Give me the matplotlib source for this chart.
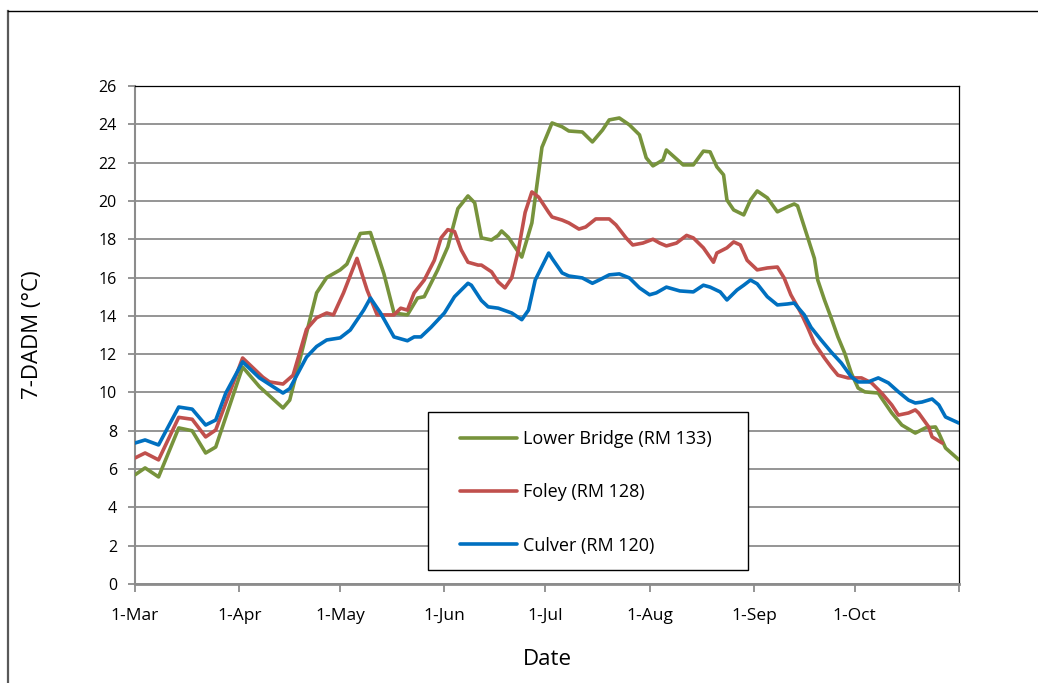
import numpy as np
import matplotlib
matplotlib.use("Agg")
import matplotlib.pyplot as plt
from matplotlib.patches import Rectangle

plt.rcParams['font.family'] = ['Open Sans', 'DejaVu Sans']

# Season start; readings are indexed by days since 1 March
season_start = np.datetime64('2013-03-01')

lower_bridge_days = [0, 3, 7, 13, 17, 21, 24, 32, 37, 44, 46, 51, 54, 57, 61, 63, 67, 70,
                     74, 77, 81, 84, 86, 90, 93, 96, 99, 101, 103, 106, 108, 109, 111, 115,
                     118, 121, 124, 127, 129, 133, 136, 139, 141, 144, 147, 150, 152, 154,
                     157, 158, 163, 166, 169, 171, 173, 175, 176, 178, 181, 183, 185, 188,
                     191, 194, 196, 197, 200, 202, 203, 205, 207, 209, 211, 213, 215, 217,
                     221, 222, 225, 228, 232, 235, 238, 239, 241, 245]
lower_bridge_temp = [5.7, 6.06, 5.59, 8.15, 8.0, 6.84, 7.15, 11.33, 10.3, 9.19, 9.6, 13.1,
                     15.2, 16.0, 16.4, 16.7, 18.3, 18.35, 16.2, 14.15, 14.05, 14.93, 15.0,
                     16.4, 17.6, 19.6, 20.26, 19.9, 18.07, 17.96, 18.2, 18.43, 18.1, 17.07,
                     18.85, 22.8, 24.07, 23.87, 23.65, 23.6, 23.08, 23.7, 24.23, 24.33, 23.97,
                     23.45, 22.25, 21.83, 22.14, 22.66, 21.88, 21.88, 22.6, 22.56, 21.78,
                     21.36, 20.05, 19.53, 19.27, 20.05, 20.52, 20.16, 19.43, 19.69, 19.84,
                     19.74, 18.1, 17.0, 15.87, 14.83, 13.89, 12.9, 12.06, 11.0, 10.23, 10.03,
                     9.97, 9.7, 8.93, 8.3, 7.88, 8.15, 8.2, 7.88, 7.1, 6.48]

foley_days = [0, 3, 7, 13, 17, 21, 24, 32, 38, 40, 44, 47, 51, 54, 57, 59, 62, 66, 69, 72,
              77, 79, 81, 83, 86, 89, 91, 93, 95, 97, 99, 102, 103, 106, 108, 110, 112, 114,
              116, 118, 120, 123, 124, 127, 129, 132, 134, 137, 141, 143, 146, 148, 151,
              154, 156, 158, 161, 164, 166, 169, 172, 173, 176, 178, 180, 182, 185, 188,
              191, 193, 195, 198, 200, 202, 205, 207, 209, 212, 216, 219, 222, 225, 227,
              230, 232, 233, 236, 237, 240]
foley_temp = [6.58, 6.84, 6.48, 8.7, 8.6, 7.68, 8.04, 11.8, 10.8, 10.55, 10.44, 10.9, 13.3,
              13.9, 14.15, 14.05, 15.2, 17.0, 15.35, 14.05, 14.05, 14.4, 14.3, 15.2, 15.87,
              16.9, 18.07, 18.5, 18.4, 17.44, 16.8, 16.65, 16.65, 16.3, 15.77, 15.46, 15.98,
              17.44, 19.4, 20.47, 20.2, 19.4, 19.16, 19.0, 18.85, 18.53, 18.64, 19.06, 19.06,
              18.75, 18.07, 17.7, 17.8, 18.0, 17.8, 17.65, 17.8, 18.2, 18.07, 17.55, 16.8,
              17.28, 17.55, 17.86, 17.7, 16.9, 16.4, 16.5, 16.55, 15.98, 15.1, 14.15, 13.4,
              12.58, 11.8, 11.33, 10.9, 10.76, 10.76, 10.5, 9.97, 9.35, 8.82, 8.93, 9.09,
              8.93, 8.2, 7.68, 7.36]

culver_days = [0, 3, 7, 13, 17, 21, 24, 27, 32, 37, 44, 46, 51, 54, 57, 61, 64, 68, 70, 73,
               77, 81, 83, 85, 88, 92, 95, 99, 100, 103, 105, 108, 112, 115, 117, 119, 123,
               124, 127, 129, 133, 136, 138, 141, 144, 147, 150, 153, 155, 158, 161, 162,
               166, 169, 171, 174, 176, 179, 181, 183, 185, 188, 191, 194, 196, 199, 201,
               204, 207, 210, 213, 215, 218, 221, 224, 227, 230, 232, 234, 237, 239, 241, 245]
culver_temp = [7.36, 7.52, 7.26, 9.24, 9.13, 8.3, 8.56, 9.97, 11.6, 10.76, 9.97, 10.2, 11.85,
               12.4, 12.74, 12.85, 13.26, 14.3, 14.93, 14.15, 12.9, 12.7, 12.9, 12.9, 13.4,
               14.15, 15.0, 15.7, 15.6, 14.8, 14.47, 14.4, 14.15, 13.8, 14.3, 15.87, 17.28,
               17.0, 16.24, 16.08, 15.98, 15.7, 15.87, 16.14, 16.19, 15.98, 15.46, 15.1, 15.2,
               15.5, 15.35, 15.3, 15.25, 15.6, 15.5, 15.25, 14.83, 15.35, 15.6, 15.87, 15.67,
               15.0, 14.57, 14.62, 14.67, 14.05, 13.4, 12.74, 12.11, 11.54, 10.81, 10.55,
               10.55, 10.76, 10.5, 10.03, 9.6, 9.45, 9.5, 9.66, 9.35, 8.72, 8.4]

series_labels = ['Lower Bridge (RM 133)', 'Foley (RM 128)', 'Culver (RM 120)']
series_colors = ['#77933C', '#C0504D', '#0070C0']

month_starts = ['2013-03-01', '2013-04-01', '2013-05-01', '2013-06-01', '2013-07-01',
                '2013-08-01', '2013-09-01', '2013-10-01', '2013-11-01']
month_labels = ['1-Mar', '1-Apr', '1-May', '1-Jun', '1-Jul', '1-Aug', '1-Sep', '1-Oct', '']
y_ticks = list(range(0, 27, 2))

fig = plt.figure(figsize=(10.38, 6.83), dpi=100)
W, H = 1038, 683

# outer chart frame
fig.add_artist(plt.Line2D([7.5 / W, 7.5 / W], [0, 1 - 10.5 / H], color='#595959', lw=1.6,
                          transform=fig.transFigure))
fig.add_artist(plt.Line2D([7.5 / W, 1.0], [1 - 10.5 / H, 1 - 10.5 / H], color='black', lw=1.0,
                          transform=fig.transFigure))

ax = fig.add_axes([135 / W, 1 - 584 / H, (959 - 135) / W, (584 - 86) / H])

def to_dates(days):
    return season_start + np.array(days).astype('timedelta64[D]')

all_days = [lower_bridge_days, foley_days, culver_days]
all_temps = [lower_bridge_temp, foley_temp, culver_temp]
handles = []
for d, t, lab, col in zip(all_days, all_temps, series_labels, series_colors):
    h, = ax.plot(to_dates(d), t, color=col, lw=2.6, label=lab,
                 solid_joinstyle='round', solid_capstyle='round', zorder=3)
    handles.append(h)

ax.set_xlim(np.datetime64('2013-03-01'), np.datetime64('2013-11-01'))
ax.set_ylim(0, 26)
ax.set_yticks(y_ticks)
ax.set_xticks([np.datetime64(m) for m in month_starts])
ax.set_xticklabels(month_labels)
ax.yaxis.grid(True, color='#8C8C8C', lw=1.3, zorder=0)
ax.set_axisbelow(True)

for s in ['top', 'right']:
    ax.spines[s].set_color('black')
    ax.spines[s].set_linewidth(0.9)
ax.spines['left'].set_color('#8C8C8C')
ax.spines['left'].set_linewidth(1.5)
ax.spines['bottom'].set_color('#8C8C8C')
ax.spines['bottom'].set_linewidth(2.0)

ax.tick_params(axis='y', direction='out', length=5, width=1.3, color='#8C8C8C',
               labelsize=11.5, pad=8, labelcolor='black')
ax.tick_params(axis='x', direction='out', length=6, width=1.3, color='#8C8C8C',
               labelsize=12.5, pad=11, labelcolor='black')

ax.set_ylabel('7-DADM (°C)', fontsize=16, labelpad=40)
ax.set_xlabel('Date', fontsize=16, labelpad=18)

# legend box
ax.add_patch(Rectangle((0.3556, 0.028), 0.3885, 0.317, transform=ax.transAxes,
                       facecolor='white', edgecolor='black', lw=1.0, zorder=4))
leg = ax.legend(handles=handles, frameon=False, loc='upper left',
                bbox_to_anchor=(0.394, 0.309), borderpad=0, borderaxespad=0,
                labelspacing=1.95, handlelength=3.15, handletextpad=0.35,
                prop={'size': 13})
leg.set_zorder(5)

fig.savefig('out.png', dpi=100)
